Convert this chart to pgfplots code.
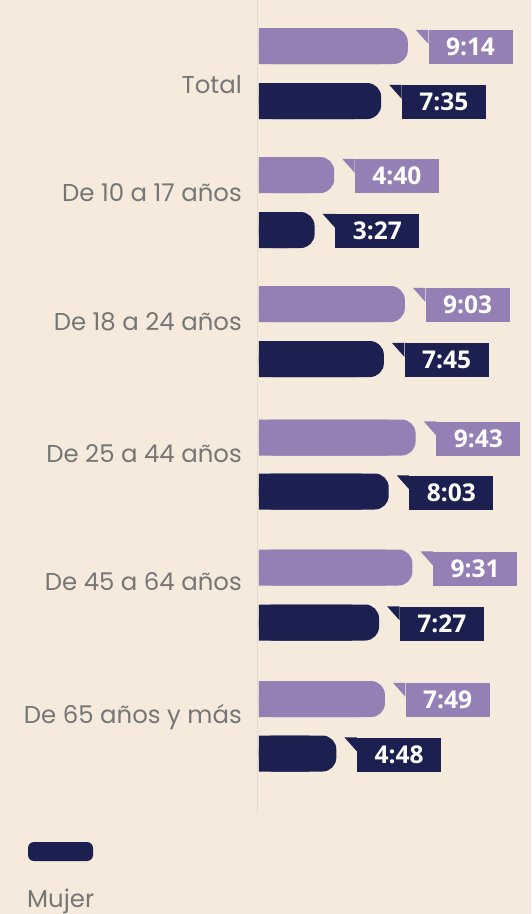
\documentclass[border=0pt]{standalone}
\usepackage{pgfplots}
\pgfplotsset{compat=1.18}
\usepackage{pgfplotstable}
\usepackage{fontspec}
\setmainfont{Poppins}
\newfontfamily\valfont{Open Sans}
\definecolor{bg}{HTML}{F5EADB}
\definecolor{purp}{HTML}{9580B5}
\definecolor{navy}{HTML}{1B2050}
\definecolor{txtgray}{HTML}{767676}
\definecolor{linecol}{HTML}{E4DDD4}
\pgfplotstableread{
y v lab
46 554 9:14
175 280 4:40
304 543 9:03
437.5 583 9:43
567.5 571 9:31
699 469 7:49
}\purpdata
\pgfplotstableread{
y v lab
101 455 7:35
230 207 3:27
359 465 7:45
491.5 483 8:03
622.5 447 7:27
753.5 288 4:48
}\navydata
\tikzset{tag/.style={fill=#1, text=white, font=\valfont\bfseries\fontsize{24.5}{24.5}\selectfont,
  minimum width=84pt, minimum height=34pt, inner sep=0pt, anchor=west, sharp corners,
  append after command={\pgfextra{\fill[#1,sharp corners] ([xshift=-12.5pt]\tikzlastnode.north west) -- (\tikzlastnode.north west) -- ([yshift=-14pt]\tikzlastnode.north west) -- cycle;}}}}
\begin{document}
\begin{tikzpicture}
\useasboundingbox (0pt,0pt) rectangle (531pt,-914pt);
\fill[bg] (0pt,0pt) rectangle (531pt,-914pt);
\draw[linecol, line width=1.2pt] (257.5pt,0pt) -- (257.5pt,-813pt);
\begin{axis}[
  at={(259pt,0pt)}, anchor=north west,
  scale only axis, width=268.6pt, height=914pt,
  xmin=0, xmax=1000, ymin=0, ymax=914, y dir=reverse,
  axis line style={draw=none}, major tick length=0pt,
  xtick=\empty,
  ytick={93,201,330,462,590,723},
  yticklabels={Total,De 10 a 17 años,De 18 a 24 años,De 25 a 44 años,De 45 a 64 años,De 65 años y más},
  yticklabel style={anchor=base east, inner sep=0pt, xshift=-17pt, text=txtgray, font=\fontsize{24.4}{24.4}\selectfont},
  clip=false,
]
\addplot[xbar, bar shift=0pt, bar width=36, fill=purp, draw=none, rounded corners=14pt,
  point meta=explicit symbolic, nodes near coords={\pgfplotspointmeta},
  nodes near coords style={tag=purp, xshift=20.5pt, yshift=-1pt}]
  table[x=v, y=y, meta=lab]{\purpdata};
\addplot[xbar, bar shift=0pt, bar width=36, fill=purp, draw=none]
  table[x expr=\thisrow{v}-100, y=y]{\purpdata};
\addplot[xbar, bar shift=0pt, bar width=36, fill=navy, draw=none, rounded corners=14pt,
  point meta=explicit symbolic, nodes near coords={\pgfplotspointmeta},
  nodes near coords style={tag=navy, xshift=20.5pt, yshift=-1pt}]
  table[x=v, y=y, meta=lab]{\navydata};
\addplot[xbar, bar shift=0pt, bar width=36, fill=navy, draw=none]
  table[x expr=\thisrow{v}-100, y=y]{\navydata};
\end{axis}
\fill[navy, rounded corners=6pt] (28pt,-842pt) rectangle (93pt,-861pt);
\node[anchor=base west, inner sep=0pt, text=txtgray, font=\fontsize{24.4}{24.4}\selectfont] at (27pt,-907pt) {Mujer};
\end{tikzpicture}
\end{document}
